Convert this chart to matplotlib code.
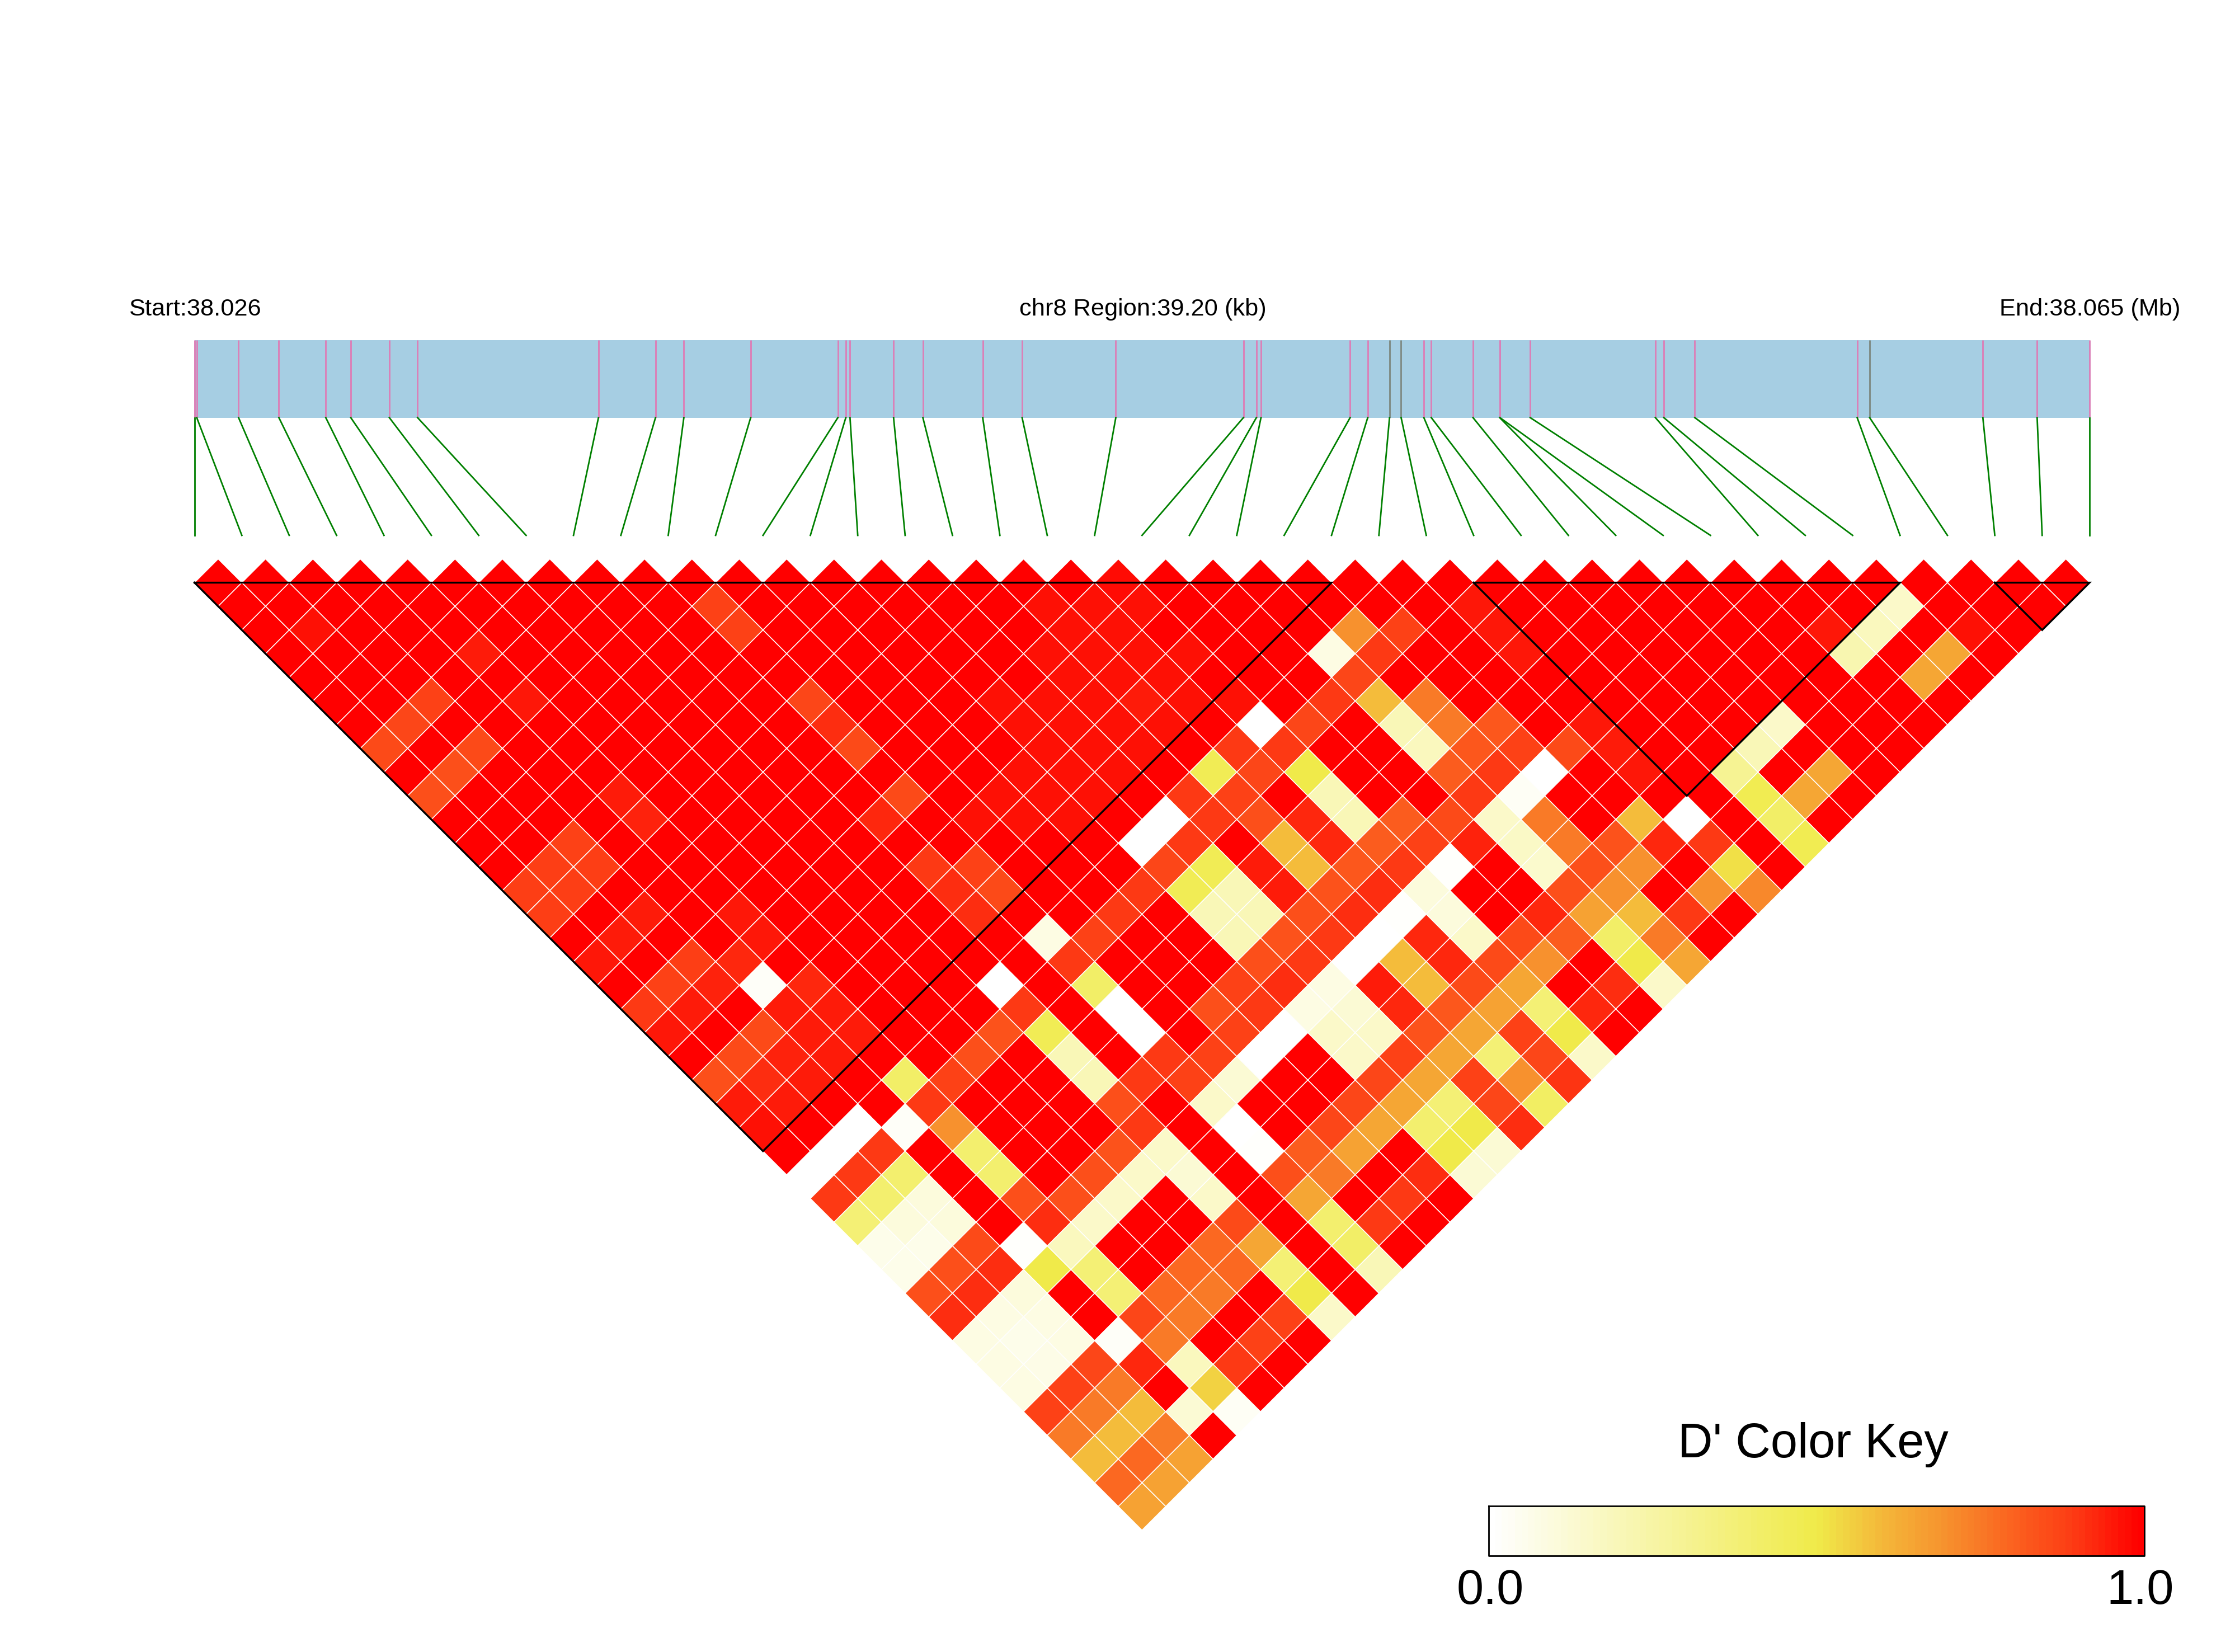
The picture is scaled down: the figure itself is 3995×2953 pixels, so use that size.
import matplotlib
matplotlib.use('Agg')
import matplotlib.pyplot as plt
import numpy as np
from matplotlib.collections import PolyCollection
from matplotlib.colors import LinearSegmentedColormap

plt.rcParams['font.family'] = ['Liberation Sans', 'DejaVu Sans']

# SNP positions, kb from the region start
snp_kb = [0, 0.047, 0.912, 1.746, 2.716, 3.233, 4.031, 4.615, 8.357, 9.537, 10.123,
          11.505, 13.309, 13.473, 13.560, 14.461, 15.067, 16.305, 17.120, 19.058,
          21.698, 21.966, 22.061, 23.905, 24.269, 24.720, 24.960, 25.430, 25.584,
          26.447, 26.998, 27.003, 27.630, 30.219, 30.393, 31.035, 34.393, 34.651,
          36.993, 38.116, 39.2]
grey_snps = [25, 26, 37]
region_kb = 39.2

# LD blocks, first and last SNP
block_first = [0, 27, 38]
block_last = [24, 36, 40]

# D' by SNP distance: {first snp: D'}, pairs not listed are 1.0
lag_01 = {19: .98}
lag_02 = {10: .88, 17: .97, 18: .97, 19: .97, 26: .96, 35: .15}
lag_03 = {1: .97, 10: .88, 17: .97, 18: .97, 23: .7, 24: .88, 26: .96, 33: .96, 34: .18, 36: .97}
lag_04 = {4: .95, 16: .97, 17: .97, 18: .97, 19: .97, 22: .08, 23: .9, 26: .96, 33: .22, 35: .645}
lag_05 = {16: .97, 17: .97, 18: .97, 22: .87, 34: .645}
lag_06 = {2: .88, 4: .96, 10: .87, 14: .97, 15: .97, 16: .97, 17: .95, 18: .97, 19: .97, 21: .9,
          22: .59, 23: .75}
lag_07 = {1: .87, 10: .92, 14: .97, 15: .97, 16: .97, 17: .97, 19: 0, 20: .87, 22: .2, 23: .75,
          24: .83, 26: .96, 30: .15}
lag_08 = {0: .86, 2: .86, 10: .86, 14: .97, 15: .97, 16: .97, 18: .9, 19: .9, 22: .18, 23: .83,
          24: .88, 25: .86, 26: .95, 29: .2}
lag_09 = {1: .85, 13: .97, 14: .97, 15: .97, 17: .47, 18: .87, 19: .5, 22: .82, 23: .9, 24: 0,
          26: .96, 28: .3, 30: .645}
lag_10 = {0: .85, 4: .95, 10: .86, 12: .97, 13: .97, 14: .97, 16: .9, 17: .88, 19: .2, 22: .9,
          23: .03, 28: .48, 29: .645}
lag_11 = {4: .94, 9: .93, 11: .97, 12: .97, 13: .97, 15: 0, 16: .9, 17: .85, 18: .93, 19: .2,
          20: .82, 21: .86, 22: .15, 23: .75, 25: .59, 26: 0, 28: .42}
lag_12 = {2: .88, 14: 0, 15: .9, 17: .59, 18: .93, 19: .82, 20: .88, 21: .94, 22: .16, 23: .75,
          24: .84, 25: .93, 26: .9, 28: .48}
lag_13 = {1: .89, 2: .89, 9: .9, 10: .88, 14: .87, 15: .47, 16: .95, 17: .59, 18: .83, 19: .9,
          20: .01, 22: .14, 23: .85, 24: .7, 26: .52}
lag_14 = {0: .89, 1: .89, 9: .92, 10: .86, 13: .9, 14: .47, 15: .2, 16: .95, 17: .84, 18: .92,
          19: .1, 22: .85, 23: .7, 25: .7, 26: .72}
lag_15 = {0: .89, 2: .95, 4: .96, 9: .92, 12: .9, 14: .2, 15: .2, 16: .85, 17: .92, 18: .01,
          19: .1, 21: .93, 22: .66, 23: .59, 24: .9}
lag_16 = {1: .95, 4: .96, 10: .08, 11: .88, 14: .2, 15: .84, 16: .9, 17: 0, 18: .93, 19: .15,
          20: .86, 21: .82, 22: .42, 23: .75}
lag_17 = {0: .96, 2: .89, 3: .93, 10: .9, 14: .85, 15: .9, 16: 0, 17: .59, 18: .93, 19: .86,
          20: .7, 22: .5, 23: .645}
lag_18 = {1: .88, 2: .94, 3: .02, 4: .93, 8: 0, 10: .42, 13: .88, 14: .92, 15: .08, 16: .95,
          17: .59, 18: .86, 19: .645, 21: .92, 22: .15}
lag_19 = {0: .9, 1: .95, 3: .95, 4: .95, 8: .9, 10: 0, 12: .85, 13: .9, 14: .08, 15: .12,
          16: .93, 17: .83, 18: .66, 19: .38, 20: .93}
lag_20 = {0: .96, 2: .86, 3: .95, 4: .95, 7: .84, 8: .47, 10: 0, 12: .88, 13: 0, 14: .15,
          15: .15, 16: .84, 17: .645, 18: .88, 19: .5}
lag_21 = {1: .86, 2: .94, 3: .95, 6: .85, 8: .2, 10: .9, 11: .88, 12: 0, 14: .15, 15: .88,
          16: .645, 17: .38, 18: .87, 19: .15}
lag_22 = {0: .85, 1: .92, 2: .95, 4: .42, 5: .88, 8: .2, 9: .9, 10: .88, 11: .12, 14: .87,
          15: .645, 16: .88, 17: .7, 18: .91}
lag_23 = {0: .95, 1: .95, 4: .9, 8: .85, 10: .15, 13: .87, 14: .645, 15: .38, 16: .87, 17: .43}
lag_24 = {0: .97, 2: 0, 3: .02, 4: .7, 8: .9, 10: 0, 12: .87, 13: .645, 14: .4, 15: .5, 16: .92}
lag_25 = {1: 0, 2: .9, 4: .4, 7: .84, 8: .15, 10: .01, 11: .82, 12: .66, 14: .5, 15: .12}
lag_26 = {0: 0, 1: .9, 2: .4, 4: .4, 6: .85, 7: .15, 8: .12, 10: .85, 11: .75, 13: .92, 14: .12}
lag_27 = {0: .9, 1: .4, 2: .1, 4: .85, 5: .85, 6: .15, 8: .15, 10: .645, 12: .9}
lag_28 = {0: .38, 1: .1, 2: .1, 4: .92, 5: .15, 8: .86, 10: .4, 11: .9}
lag_29 = {0: .06, 1: .06, 2: .86, 3: .01, 4: .18, 7: .79, 8: .645, 10: .42}
lag_30 = {0: .06, 1: .85, 2: .92, 3: .5, 4: .38, 6: .79, 7: .79, 8: .38, 10: .2}
lag_31 = {0: .85, 1: .92, 2: .1, 4: .38, 5: .79, 6: .75, 8: .5}
lag_32 = {0: .92, 1: .08, 2: .08, 4: .87, 5: .75, 7: .88, 8: .15}
lag_33 = {0: .08, 1: .06, 2: .08, 3: .02, 4: .75, 6: .88}
lag_34 = {0: .08, 1: .07, 2: .87, 3: .93, 4: .18, 5: .9}
lag_35 = {0: .08, 1: .88, 2: .75, 4: .55}
lag_36 = {0: .88, 1: .75, 2: .59, 3: .12, 4: .03}
lag_37 = {0: .75, 1: .59, 2: .75}
lag_38 = {0: .59, 1: .79, 2: .66}
lag_39 = {0: .79, 1: .66}
lag_40 = {0: .66}

lags = [lag_01, lag_02, lag_03, lag_04, lag_05, lag_06, lag_07, lag_08, lag_09, lag_10,
        lag_11, lag_12, lag_13, lag_14, lag_15, lag_16, lag_17, lag_18, lag_19, lag_20,
        lag_21, lag_22, lag_23, lag_24, lag_25, lag_26, lag_27, lag_28, lag_29, lag_30,
        lag_31, lag_32, lag_33, lag_34, lag_35, lag_36, lag_37, lag_38, lag_39, lag_40]

W, H = 3995, 2953
x_left, x_right = 347.6, 3735.0
y_top = 1041.5
n_snp = len(snp_kb)
step = (x_right - x_left) / (n_snp - 1)
half = step / 2

cmap = LinearSegmentedColormap.from_list('dprime', [
    (0.0, '#FFFFFF'), (0.5, '#F0EB4A'), (0.6, '#F4B83A'), (0.7, '#F7922E'),
    (0.8, '#FB6420'), (0.9, '#FD3A14'), (1.0, '#FF0000')])

fig = plt.figure(figsize=(W / 100, H / 100), dpi=100)
ax = fig.add_axes([0, 0, 1, 1])
ax.set_xlim(0, W)
ax.set_ylim(H, 0)
ax.axis('off')

# gene bar and SNP ticks
bar_top, bar_bot = 607.5, 746.5
line_end = 957
ax.fill_between([x_left, x_right], bar_top, bar_bot, color='#A6CEE3', lw=0)
for k, kb in enumerate(snp_kb):
    x_pos = x_left + kb / region_kb * (x_right - x_left)
    col = '#7F8C85' if k in grey_snps else '#DB80B8'
    ax.plot([x_pos, x_pos], [bar_top, bar_bot], color=col, lw=2.1, solid_capstyle='butt')
    ax.plot([x_pos, x_left + k * step], [bar_bot, line_end], color='green', lw=2.0)

# LD triangle
verts = []
vals = []
for n, lag in enumerate(lags):
    dist = n + 1
    for i in range(n_snp - dist):
        cx = x_left + (2 * i + dist) * half
        cy = y_top + (dist - 1) * half
        verts.append([(cx - half, cy), (cx, cy - half), (cx + half, cy), (cx, cy + half)])
        vals.append(lag.get(i, 1.0))
cells = PolyCollection(verts, array=np.array(vals), cmap=cmap, clim=(0, 1),
                       edgecolors='white', linewidths=1.1)
ax.add_collection(cells)

for a, b in zip(block_first, block_last):
    xa = x_left + a * step
    xb = x_left + b * step
    ax.plot([xa, xb, (xa + xb) / 2, xa], [y_top, y_top, y_top + (b - a) * half, y_top],
            color='black', lw=2.4, solid_joinstyle='miter')

# colour key
key_x0, key_x1, key_y0, key_y1 = 2661, 3833, 2691.5, 2781
key_levels = np.linspace(0, 1, 100).reshape(1, -1)
ax.imshow(key_levels, cmap=cmap, vmin=0, vmax=1, extent=(key_x0, key_x1, key_y1, key_y0),
          aspect='auto', interpolation='nearest')
ax.set_xlim(0, W)
ax.set_ylim(H, 0)
ax.plot([key_x0, key_x1, key_x1, key_x0, key_x0], [key_y0, key_y0, key_y1, key_y1, key_y0],
        color='black', lw=2.0)

ax.text(3241, 2605, "D' Color Key", fontsize=62.4, ha='center', va='baseline')
ax.text(2664, 2867.5, '0.0', fontsize=62.4, ha='center', va='baseline')
ax.text(3826, 2867.5, '1.0', fontsize=62.4, ha='center', va='baseline')

ax.text(230, 564.3, 'Start:38.026', fontsize=31.2, ha='left', va='baseline')
ax.text(2042.6, 564.3, 'chr8 Region:39.20 (kb)', fontsize=31.2, ha='center', va='baseline')
ax.text(3574, 564.3, 'End:38.065 (Mb)', fontsize=31.2, ha='left', va='baseline')

fig.savefig('out.png', dpi=100, facecolor='white')
